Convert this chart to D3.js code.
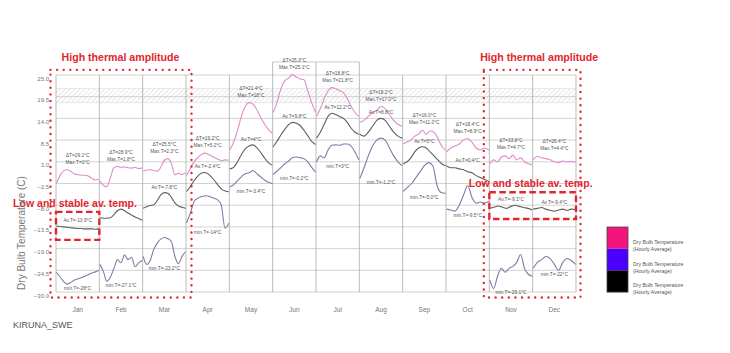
<!DOCTYPE html>
<html><head><meta charset="utf-8">
<script src="https://cdn.jsdelivr.net/npm/d3@7"></script>
<style>body{margin:0;background:#fff;} svg{display:block;font-family:"Liberation Sans",Arial,sans-serif;}</style>
</head><body><svg id="c" width="730" height="353"></svg>
<script>
const months = ["Jan","Feb","Mar","Apr","May","Jun","Jul","Aug","Sep","Oct","Nov","Dec"];
const yTicks = [25.0,19.5,14.0,8.5,3.0,-2.5,-8.0,-13.5,-19.0,-24.5,-30.0];
const maxT = [
  [-2.4,-0.5,0.7,1.0,0.6,0.0,-0.3,-0.4,-0.4,-0.6,-1.2,-1.6,-1.4],
  [-1.8,-3.0,-3.3,-1.0,1.5,1.8,1.6,1.7,1.5,1.4,1.6,1.3,1.4],
  [0.6,0.9,1.0,0.8,0.6,1.6,3.4,3.8,2.6,-0.3,0.1,-0.2,0.2],
  [-0.5,1.2,2.8,3.9,4.7,5.2,5.0,4.5,4.0,3.6,3.3,3.5,3.4],
  [6.0,8.0,11.0,14.5,17.0,18.0,17.6,16.2,14.2,12.6,11.2,10.2],
  [15.5,18.0,21.5,23.5,24.2,25.1,24.5,24.0,23.8,21.0,18.0,15.5],
  [14.5,16.5,19.0,21.0,21.8,21.5,21.0,20.5,19.0,17.0,15.5,14.5],
  [13.0,13.5,14.5,15.5,16.0,17.0,16.5,15.0,13.5,12.5,12.0],
  [7.5,8.0,8.5,9.5,10.0,11.0,10.0,10.8,10.5,9.0,7.0,6.0],
  [5.5,6.5,7.0,7.5,8.5,8.9,8.0,6.5,6.0,6.5,6.0],
  [2.5,3.5,3.0,4.2,4.5,3.8,4.7,3.5,4.0,3.0,2.5,2.2],
  [3.5,4.4,4.0,3.8,3.5,3.0,2.8,3.2,3.0,3.1,2.9]
];
const avgT = [
  [-13.3,-13.4,-13.5,-13.6,-13.7,-13.8,-13.9,-13.9,-14.0,-14.0,-14.0,-14.1,-14.0],
  [-11.2,-11.3,-11.3,-11.2,-10.4,-9.4,-9.0,-9.4,-10.0,-10.5,-11.0,-11.4,-11.8],
  [-8.8,-8.4,-8.1,-7.9,-6.8,-5.4,-4.8,-5.0,-6.0,-7.4,-8.2,-8.5,-8.8],
  [-4.5,-3.4,-2.0,-0.8,0.0,0.3,0.0,-0.8,-1.8,-3.0,-4.0,-4.4,-4.6],
  [1.2,1.6,3.0,4.8,6.3,7.0,7.3,6.6,5.4,4.0,2.8,2.2],
  [6.8,8.2,9.8,11.2,12.4,13.0,12.8,12.2,11.0,9.6,8.2,7.4],
  [9.0,10.5,12.5,14.5,15.3,15.0,14.5,14.0,13.0,11.5,10.5,10.0],
  [10.0,9.5,10.5,12.0,13.5,14.0,13.5,12.0,10.5,9.5,9.0],
  [2.5,3.0,4.0,5.5,6.5,6.8,6.5,5.5,4.5,3.5,2.5,2.0],
  [2.0,1.5,1.5,1.2,1.0,0.5,0.2,-0.5,-1.0,-1.5,-2.0],
  [-8.8,-8.5,-8.2,-8.5,-8.8,-8.3,-8.0,-8.3,-8.6,-8.8,-9.2],
  [-9.0,-8.8,-8.6,-9.0,-9.3,-9.5,-9.2,-9.0,-9.3,-9.0,-9.1]
];
const minT = [
  [-25.0,-26.2,-27.3,-28.0,-27.6,-27.0,-26.7,-26.4,-26.0,-25.6,-25.2,-24.9,-24.5],
  [-23.0,-24.8,-27.3,-26.2,-24.0,-21.8,-22.6,-20.6,-21.8,-21.2,-23.6,-22.6,-22.0],
  [-21.0,-23.0,-22.0,-19.2,-17.6,-16.6,-16.2,-16.5,-17.2,-21.0,-22.8,-21.0,-19.8],
  [-12.5,-10.0,-7.0,-6.2,-5.8,-5.6,-5.8,-6.2,-6.6,-7.8,-13.8,-12.6],
  [-3.4,-2.8,-1.8,-0.8,0.0,0.2,0.8,0.0,-0.8,-1.6,-2.2,-2.5],
  [-0.2,0.6,1.5,2.5,3.2,4.0,4.2,4.0,3.8,3.0,1.6,0.4],
  [3.0,4.5,4.0,6.0,7.2,7.3,7.2,7.5,7.5,7.0,5.5,3.5],
  [-1.2,1.5,4.5,7.0,8.5,9.0,8.5,6.5,4.5,3.0,2.0],
  [-4.5,-3.5,-2.5,-1.0,0.5,2.0,2.8,2.0,-3.0,-4.8,-5.0],
  [-9.0,-9.2,-9.5,-8.0,-5.5,-3.0,-6.0,-7.5,-7.2,-7.5,-7.0],
  [-27.0,-29.1,-26.0,-24.0,-25.0,-24.0,-23.5,-22.5,-20.5,-24.0,-25.5,-26.0],
  [-24.0,-22.5,-21.8,-21.0,-21.5,-23.0,-24.5,-22.5,-21.5,-22.0,-23.0]
];
const deltaLabels = ["ΔT=29.1°C","ΔT=28.9°C","ΔT=25.5°C","ΔT=19.2°C","ΔT=21.4°C","ΔT=25.3°C","ΔT=18.8°C","ΔT=18.2°C","ΔT=16.0°C","ΔT=18.4°C","ΔT=33.8°C","ΔT=26.4°C"];
const maxLabels = ["Max.T=1°C","Max.T=1.8°C","Max.T=2.3°C","Max.T=5.2°C","Max.T=18°C","Max.T=25.1°C","Max.T=21.8°C","Max.T=17.0°C","Max.T=11.0°C","Max.T=8.9°C","Max.T=4.7°C","Max.T=4.4°C"];
const avgLabels = ["Av.T=-13.9°C","","Av.T=-7.8°C","Av.T=-2.4°C","Av.T=4°C","Av.T=9.8°C","Av.T=12.2°C","Av.T=8.8°C","Av.T=5°C","Av.T=0.4°C","Av.T=-9.1°C","Av.T=-9.4°C"];
const minLabels = ["min.T=-28°C","min.T=-27.1°C","min.T=-23.2°C","min.T=-14°C","min.T=-3.4°C","min.T=-0.2°C","min.T=3°C","min.T=-1.2°C","min.T=-5.0°C","min.T=-9.5°C","min.T=-29.1°C","min.T=-22°C"];
const comfortBand = [18.0, 21.6];
const extendedMonths = ["Jun","Jul"];
const extendedTop = 28.3;
const highAmpGroups = [["Jan","Mar"],["Nov","Dec"]];
const highAmpTitle = "High thermal amplitude";
const lowStableGroups = [["Jan","Jan",-9.7,-16.8],["Nov","Dec",-4.7,-11.5]];
const lowStableTitle = "Low and stable av. temp.";
const legendColors = ["#f2157c","#4a00ff","#000000"];
const legendLines = ["Dry Bulb Temperature","(Hourly Average)"];
const yTitle = "Dry Bulb Temperature (C)";
const stationName = "KIRUNA_SWE";

const svg = d3.select("#c");
const RED = "#e2262e";
const x = d3.scaleBand().domain(months).range([56,576]).padding(0);
const y = d3.scaleLinear().domain([-30,25]).range([292,75]);
const bw = x.bandwidth();
const [x0,x1] = x.range();

// hatch pattern band
const defs = svg.append("defs");
const pat = defs.append("pattern").attr("id","hatch").attr("patternUnits","userSpaceOnUse")
  .attr("width",3.5).attr("height",3.5).attr("patternTransform","rotate(45)");
pat.append("line").attr("x1",0).attr("y1",0).attr("x2",0).attr("y2",3.5).attr("stroke","#cfcfcf").attr("stroke-width",1);
svg.append("rect").attr("x",x0).attr("width",x1-x0).attr("y",y(comfortBand[1])).attr("height",y(comfortBand[0])-y(comfortBand[1])).attr("fill","url(#hatch)");
svg.append("g").selectAll("line").data(comfortBand).join("line")
  .attr("x1",x0).attr("x2",x1).attr("y1",d=>y(d)).attr("y2",d=>y(d)).attr("stroke","#dedede").attr("stroke-width",0.7);

// grid
svg.append("g").selectAll("line").data(yTicks).join("line")
  .attr("x1",x0).attr("x2",x1).attr("y1",d=>y(d)).attr("y2",d=>y(d))
  .attr("stroke","#c6c6c6").attr("stroke-width",0.8);
const bounds = months.map(m=>x(m)).concat([x1]);
svg.append("g").selectAll("line").data(bounds).join("line")
  .attr("x1",d=>d).attr("x2",d=>d).attr("y1",y(25)).attr("y2",y(-30))
  .attr("stroke","#a9a9a9").attr("stroke-width",0.8);
// extended columns (Jun, Jul)
const exB = extendedMonths.map(m=>x(m)).concat([x(extendedMonths[extendedMonths.length-1])+bw]);
svg.append("g").selectAll("line").data(exB).join("line")
  .attr("x1",d=>d).attr("x2",d=>d).attr("y1",y(extendedTop)).attr("y2",y(25))
  .attr("stroke","#a9a9a9").attr("stroke-width",0.8);
svg.append("line").attr("x1",exB[0]).attr("x2",exB[exB.length-1]).attr("y1",y(extendedTop)).attr("y2",y(extendedTop))
  .attr("stroke","#bdbdbd").attr("stroke-width",0.8);

// axes
const yAxis = svg.append("g").attr("transform",`translate(${x0-4},0)`)
  .call(d3.axisLeft(y).tickValues(yTicks).tickFormat(d3.format(".1f")).tickSize(0));
yAxis.select(".domain").remove();
yAxis.selectAll("text").attr("font-size",6).attr("fill","#777").attr("dy","0.85em").attr("font-family","Liberation Sans, Arial, sans-serif");
const xAxis = svg.append("g").attr("transform",`translate(0,${y(-30)+12})`)
  .call(d3.axisBottom(x).tickSize(0));
xAxis.select(".domain").remove();
xAxis.selectAll("text").attr("font-size",6.5).attr("fill","#777").attr("font-family","Liberation Sans, Arial, sans-serif");

// lines
const series = [
  {data:maxT, color:"#de8ccb"},
  {data:avgT, color:"#5e5e5e"},
  {data:minT, color:"#7f7ca6"}
];
const gL = svg.append("g").attr("fill","none").attr("stroke-width",1.1);
series.forEach(s=>{
  months.forEach((m,i)=>{
    const arr = s.data[i];
    const xs = d3.scaleLinear().domain([0,arr.length-1]).range([x(m)+0.5,x(m)+bw-0.5]);
    gL.append("path").attr("d", d3.line().x((d,j)=>xs(j)).y(d=>y(d)).curve(d3.curveMonotoneX)(arr))
      .attr("stroke", s.color);
  });
});

// annotations
const gA = svg.append("g").attr("font-size",4.8).attr("fill","#555").attr("text-anchor","middle");
months.forEach((m,i)=>{
  const cx = x(m)+bw/2;
  const pk = y(d3.max(maxT[i]));
  gA.append("text").attr("x",cx).attr("y",pk-13).text(deltaLabels[i]);
  gA.append("text").attr("x",cx).attr("y",pk-6).text(maxLabels[i]);
  if (avgLabels[i]) gA.append("text").attr("x",cx).attr("y",y(d3.max(avgT[i]))-4).text(avgLabels[i]);
  gA.append("text").attr("x",cx).attr("y",y(d3.min(minT[i]))+6).text(minLabels[i]);
});

function fit(t,w){ const l=t.node().getComputedTextLength(); t.attr("font-size", parseFloat(t.attr("font-size"))*w/l); }

// red dotted boxes
highAmpGroups.forEach(([a,b],k)=>{
  const lx = x(a)-5.5, rx = x(b)+bw+(k===0?5.5:4.5);
  const ty = y(26.3), by = y(-31.4);
  svg.append("rect").attr("x",lx).attr("y",ty).attr("width",rx-lx).attr("height",by-ty)
    .attr("fill","none").attr("stroke",RED).attr("stroke-width",2.4)
    .attr("stroke-dasharray","0 6.6").attr("stroke-linecap","round");
  const t = svg.append("text").attr("x",(lx+rx)/2 + (k===0?-0.5:7)).attr("y",ty-9)
    .attr("text-anchor","middle").attr("font-weight","bold").attr("font-size",10).attr("fill",RED).text(highAmpTitle);
  fit(t,118);
});
// red dashed boxes
lowStableGroups.forEach(([a,b,t0,b0],k)=>{
  const lx = x(a), rx = x(b)+bw;
  svg.append("rect").attr("x",lx).attr("y",y(t0)).attr("width",rx-lx).attr("height",y(b0)-y(t0))
    .attr("fill","none").attr("stroke",RED).attr("stroke-width",2.4).attr("stroke-dasharray","6.5 3.5");
  const t = svg.append("text").attr("x", k===0 ? 75 : (lx+rx)/2-2).attr("y", y(t0)-(k===0?5:5))
    .attr("text-anchor","middle").attr("font-weight","bold").attr("font-size",10).attr("fill",RED).text(lowStableTitle);
  fit(t,124);
});

// y title
svg.append("text").attr("transform",`translate(25,233) rotate(-90)`).attr("text-anchor","middle")
  .attr("font-size",10).attr("fill","#777").text(yTitle);

// station
svg.append("text").attr("x",13).attr("y",328).attr("font-size",9).attr("fill","#555").text(stationName);

// legend
const lg = svg.append("g").attr("transform","translate(607,227)");
const sh = 21.7;
lg.selectAll("rect.sw").data(legendColors).join("rect").attr("class","sw")
  .attr("x",0).attr("y",(d,i)=>i*sh).attr("width",21).attr("height",sh).attr("fill",d=>d);
lg.append("rect").attr("x",0).attr("y",0).attr("width",21).attr("height",sh*3).attr("fill","none").attr("stroke","#444").attr("stroke-width",0.8);
legendColors.forEach((c,i)=>{
  legendLines.forEach((l,j)=>{
    lg.append("text").attr("x",26).attr("y",i*sh+17+j*7).attr("font-size",5.2).attr("fill","#555").text(l);
  });
});
</script></body></html>
